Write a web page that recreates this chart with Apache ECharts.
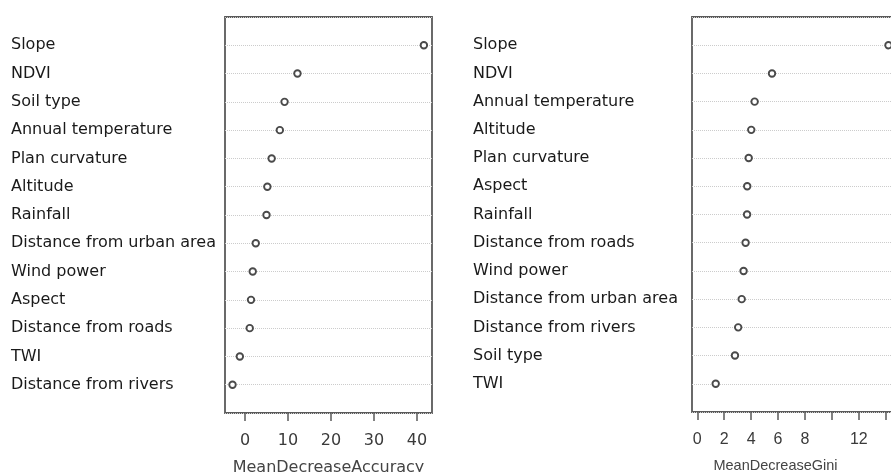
<!DOCTYPE html>
<html>
<head>
<meta charset="utf-8">
<script src="https://cdn.jsdelivr.net/npm/echarts@6/dist/echarts.min.js"></script>
<style>
html,body{margin:0;padding:0;background:#fff;}
#c{width:891px;height:472px;}
</style>
</head>
<body>
<div id="c"></div>
<script>
// ---- data ----
var accNames = ["Slope","NDVI","Soil type","Annual temperature","Plan curvature","Altitude","Rainfall","Distance from urban area","Wind power","Aspect","Distance from roads","TWI","Distance from rivers"];
var accValues = [41.6, 12.2, 9.2, 8.1, 6.2, 5.2, 5.0, 2.5, 1.8, 1.4, 1.1, -1.2, -2.9];
var giniNames = ["Slope","NDVI","Annual temperature","Altitude","Plan curvature","Aspect","Rainfall","Distance from roads","Wind power","Distance from urban area","Distance from rivers","Soil type","TWI"];
var giniValues = [14.2, 5.55, 4.26, 4.01, 3.82, 3.71, 3.7, 3.59, 3.44, 3.3, 3.04, 2.8, 1.37];
var accTicks = [0, 10, 20, 30, 40];
var giniTicks = [0, 2, 4, 6, 8, 10, 12, 14];
var giniTickLabels = [0, 2, 4, 6, 8, 12];

var n = accNames.length;
function pts(vals){ return vals.map(function(v,i){ return [v, n - i]; }); }
function yLabel(names){ return function(v){ return (v >= 1 && v <= n) ? names[n - v] : ''; }; }

var chart = echarts.init(document.getElementById('c'), null, {renderer:'canvas'});
var boxColor = '#5a5a5a';
var gridCommon = {show:true, borderColor:boxColor, borderWidth:1.8, backgroundColor:'transparent', containLabel:false, outerBoundsMode:'none'};
function yAxisFor(idx, names, margin){
  return {
    type:'value', gridIndex:idx, min:0, max:n+1, interval:1,
    axisLine:{show:false}, axisTick:{show:false},
    splitLine:{show:true, lineStyle:{type:'dotted', color:'#cccccc', width:1}},
    axisLabel:{formatter:yLabel(names), align:'left', margin:margin,
      fontFamily:'DejaVu Sans', fontSize:16, color:'#1a1a1a'}
  };
}
var option = {
  backgroundColor:'#ffffff',
  animation:false,
  grid:[
    Object.assign({left:225, top:17, width:207, height:396}, gridCommon),
    Object.assign({left:692, top:17, width:207, height:395}, gridCommon)
  ],
  xAxis:[
    {type:'value', gridIndex:0, min:-4.65, max:43.49,
     axisLine:{show:false}, splitLine:{show:false},
     axisTick:{show:true, inside:false, length:8, customValues:accTicks, lineStyle:{color:boxColor, width:1.5}},
     axisLabel:{customValues:accTicks, margin:20, fontFamily:'DejaVu Sans', fontSize:16, color:'#3a3a3a'},
     name:'MeanDecreaseAccuracy', nameLocation:'middle', nameGap:47,
     nameTextStyle:{fontFamily:'DejaVu Sans', fontSize:16, color:'#444', padding:[0,0,0,0]}},
    {type:'value', gridIndex:1, min:-0.39, max:14.98,
     axisLine:{show:false}, splitLine:{show:false},
     axisTick:{show:true, inside:false, length:8, customValues:giniTicks, lineStyle:{color:boxColor, width:1.5}},
     axisLabel:{customValues:giniTickLabels, margin:20, fontFamily:'Liberation Sans', fontSize:16, color:'#3a3a3a'},
     name:'MeanDecreaseGini', nameLocation:'middle', nameGap:46,
     nameTextStyle:{fontFamily:'Liberation Sans', fontSize:14.5, color:'#444', padding:[0,40,0,0]}}
  ],
  yAxis:[ yAxisFor(0, accNames, 214), yAxisFor(1, giniNames, 219) ],
  series:[
    {type:'scatter', xAxisIndex:0, yAxisIndex:0, data:pts(accValues), symbol:'circle', symbolSize:6.5,
     itemStyle:{color:'#ffffff', borderColor:'#4a4a4a', borderWidth:1.9, opacity:1}},
    {type:'scatter', xAxisIndex:1, yAxisIndex:1, data:pts(giniValues), symbol:'circle', symbolSize:6.5,
     itemStyle:{color:'#ffffff', borderColor:'#4a4a4a', borderWidth:1.9, opacity:1}}
  ]
};
chart.setOption(option);
</script>
</body>
</html>
